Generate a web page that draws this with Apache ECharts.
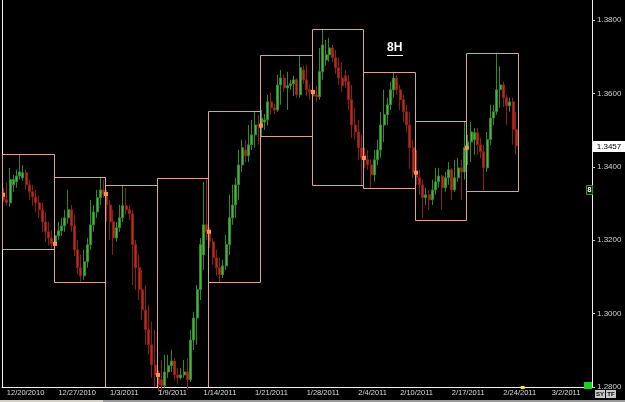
<!DOCTYPE html>
<html>
<head>
<meta charset="utf-8">
<script src="https://cdn.jsdelivr.net/npm/echarts/dist/echarts.min.js"></script>
<style>
  html, body { margin: 0; padding: 0; background: #000; }
  #main { width: 625px; height: 402px; }
</style>
</head>
<body>
<div id="main"></div>
<script>
// 8H bars, [open, close, low, high], 16 bars per week
var bars = [
  // week of 12/20/2010
  [1.3324,1.3310,1.3304,1.3343],[1.3310,1.3302,1.3294,1.3356],[1.3302,1.3365,1.3291,1.3397],[1.3351,1.3365,1.3332,1.3378],
  [1.3359,1.3375,1.3343,1.3392],[1.3375,1.3386,1.3365,1.3433],[1.3370,1.3384,1.3362,1.3405],[1.3384,1.3351,1.3337,1.3392],
  [1.3351,1.3332,1.3310,1.3365],[1.3332,1.3318,1.3294,1.3351],[1.3318,1.3302,1.3277,1.3337],[1.3302,1.3283,1.3261,1.3321],
  [1.3283,1.3250,1.3223,1.3302],[1.3250,1.3223,1.3196,1.3277],[1.3223,1.3206,1.3185,1.3250],[1.3206,1.3190,1.3177,1.3228],
  // 12/27/2010
  [1.3190,1.3212,1.3182,1.3228],[1.3212,1.3226,1.3201,1.3250],[1.3226,1.3239,1.3212,1.3261],[1.3239,1.3261,1.3223,1.3283],
  [1.3261,1.3283,1.3245,1.3337],[1.3283,1.3239,1.3223,1.3296],[1.3239,1.3174,1.3157,1.3269],[1.3174,1.3125,1.3106,1.3201],
  [1.3125,1.3103,1.3087,1.3160],[1.3103,1.3141,1.3092,1.3174],[1.3141,1.3188,1.3125,1.3206],[1.3188,1.3242,1.3174,1.3310],
  [1.3242,1.3277,1.3223,1.3296],[1.3277,1.3316,1.3261,1.3337],[1.3316,1.3337,1.3296,1.3373],[1.3337,1.3326,1.3316,1.3365],
  // 1/3/2011
  [1.3326,1.3296,1.3250,1.3337],[1.3296,1.3250,1.3201,1.3310],[1.3250,1.3206,1.3160,1.3283],[1.3206,1.3234,1.3196,1.3250],
  [1.3234,1.3261,1.3223,1.3296],[1.3261,1.3294,1.3250,1.3351],[1.3294,1.3283,1.3269,1.3343],[1.3283,1.3272,1.3255,1.3296],
  [1.3272,1.3188,1.3078,1.3283],[1.3188,1.3125,1.3065,1.3201],[1.3125,1.3065,1.3037,1.3160],[1.3065,1.3010,1.2983,1.3119],
  [1.3010,1.2956,1.2915,1.3078],[1.2956,1.2915,1.2888,1.3024],[1.2915,1.2860,1.2825,1.2978],[1.2860,1.2833,1.2801,1.2956],
  // 1/9/2011
  [1.2833,1.2806,1.2787,1.2846],[1.2820,1.2804,1.2787,1.2874],[1.2804,1.2841,1.2798,1.2888],[1.2841,1.2858,1.2825,1.2888],
  [1.2858,1.2871,1.2841,1.2901],[1.2871,1.2833,1.2820,1.2879],[1.2833,1.2825,1.2809,1.2852],[1.2825,1.2833,1.2820,1.2852],
  [1.2833,1.2841,1.2825,1.2874],[1.2841,1.2820,1.2792,1.2879],[1.2820,1.2928,1.2814,1.2956],[1.2928,1.2988,1.2901,1.3005],
  [1.2988,1.3065,1.2915,1.3078],[1.3065,1.3188,1.3037,1.3206],[1.3160,1.3242,1.3119,1.3359],[1.3242,1.3223,1.3201,1.3370],
  // 1/16/2011
  [1.3223,1.3196,1.3179,1.3234],[1.3196,1.3152,1.3133,1.3206],[1.3152,1.3125,1.3103,1.3174],[1.3125,1.3106,1.3087,1.3152],
  [1.3106,1.3130,1.3097,1.3147],[1.3130,1.3188,1.3119,1.3215],[1.3188,1.3261,1.3160,1.3324],[1.3261,1.3296,1.3242,1.3351],
  [1.3296,1.3351,1.3261,1.3370],[1.3351,1.3405,1.3310,1.3446],[1.3405,1.3452,1.3386,1.3474],[1.3446,1.3430,1.3413,1.3474],
  [1.3430,1.3460,1.3413,1.3514],[1.3460,1.3487,1.3446,1.3528],[1.3487,1.3514,1.3452,1.3553],[1.3514,1.3512,1.3460,1.3542],
  // 1/23/2011
  [1.3512,1.3533,1.3482,1.3555],[1.3522,1.3528,1.3501,1.3544],[1.3528,1.3577,1.3512,1.3596],[1.3577,1.3561,1.3542,1.3602],
  [1.3561,1.3555,1.3544,1.3572],[1.3555,1.3623,1.3550,1.3651],[1.3623,1.3642,1.3569,1.3664],[1.3642,1.3615,1.3604,1.3651],
  [1.3615,1.3621,1.3555,1.3659],[1.3621,1.3626,1.3610,1.3637],[1.3626,1.3637,1.3593,1.3648],[1.3637,1.3596,1.3588,1.3642],
  [1.3596,1.3670,1.3588,1.3705],[1.3664,1.3637,1.3626,1.3675],[1.3637,1.3610,1.3593,1.3678],[1.3610,1.3604,1.3583,1.3623],
  // 1/30/2011
  [1.3604,1.3593,1.3574,1.3642],[1.3596,1.3591,1.3577,1.3621],[1.3591,1.3659,1.3583,1.3724],[1.3659,1.3732,1.3637,1.3776],
  [1.3691,1.3705,1.3675,1.3746],[1.3705,1.3724,1.3686,1.3751],[1.3724,1.3697,1.3686,1.3732],[1.3697,1.3670,1.3653,1.3719],
  [1.3670,1.3642,1.3623,1.3697],[1.3642,1.3621,1.3604,1.3686],[1.3648,1.3632,1.3615,1.3664],[1.3632,1.3583,1.3555,1.3651],
  [1.3583,1.3514,1.3479,1.3623],[1.3514,1.3495,1.3474,1.3561],[1.3495,1.3452,1.3419,1.3528],[1.3452,1.3424,1.3351,1.3487],
  // 2/6/2011
  [1.3433,1.3419,1.3397,1.3452],[1.3419,1.3405,1.3392,1.3446],[1.3405,1.3378,1.3343,1.3419],[1.3378,1.3419,1.3359,1.3446],
  [1.3419,1.3446,1.3405,1.3474],[1.3446,1.3514,1.3424,1.3550],[1.3514,1.3542,1.3468,1.3610],[1.3542,1.3569,1.3514,1.3588],
  [1.3569,1.3610,1.3555,1.3632],[1.3610,1.3642,1.3588,1.3659],[1.3642,1.3610,1.3596,1.3651],[1.3610,1.3583,1.3555,1.3623],
  [1.3583,1.3550,1.3522,1.3596],[1.3550,1.3514,1.3495,1.3569],[1.3514,1.3452,1.3395,1.3550],[1.3452,1.3384,1.3370,1.3474],
  // 2/13/2011
  [1.3386,1.3370,1.3351,1.3446],[1.3370,1.3351,1.3324,1.3392],[1.3351,1.3316,1.3261,1.3365],[1.3316,1.3324,1.3296,1.3343],
  [1.3324,1.3310,1.3283,1.3337],[1.3310,1.3337,1.3296,1.3365],[1.3337,1.3359,1.3324,1.3397],[1.3359,1.3375,1.3343,1.3397],
  [1.3375,1.3343,1.3283,1.3378],[1.3343,1.3370,1.3332,1.3386],[1.3370,1.3392,1.3351,1.3413],[1.3392,1.3337,1.3310,1.3397],
  [1.3337,1.3370,1.3332,1.3419],[1.3370,1.3397,1.3359,1.3424],[1.3397,1.3386,1.3310,1.3419],[1.3386,1.3452,1.3365,1.3522],
  // 2/20/2011
  [1.3452,1.3468,1.3405,1.3487],[1.3468,1.3495,1.3413,1.3522],[1.3474,1.3493,1.3433,1.3506],[1.3493,1.3460,1.3433,1.3506],
  [1.3460,1.3441,1.3424,1.3479],[1.3441,1.3397,1.3335,1.3460],[1.3397,1.3474,1.3386,1.3495],[1.3474,1.3533,1.3460,1.3569],
  [1.3533,1.3550,1.3514,1.3569],[1.3550,1.3610,1.3542,1.3711],[1.3610,1.3623,1.3561,1.3674],[1.3623,1.3588,1.3563,1.3632],
  [1.3588,1.3566,1.3514,1.3596],[1.3566,1.3577,1.3550,1.3588],[1.3577,1.3501,1.3460,1.3588],[1.3501,1.3457,1.3433,1.3550]
];

// weekly range boxes and the weekly open marks
var weekHigh = [1.3435, 1.3372, 1.3350, 1.3369, 1.3552, 1.3705, 1.3775, 1.3658, 1.3525, 1.3710];
var weekLow  = [1.3176, 1.3086, 1.2800, 1.2800, 1.3086, 1.3484, 1.3350, 1.3342, 1.3255, 1.3334];
var weekOpen = [1.3324, 1.3190, 1.3326, 1.2833, 1.3223, 1.3512, 1.3604, 1.3424, 1.3384, 1.3452];
var barsPerWeek = 16;
var slotCount = 183; // bars + empty space on the right

// date labels along the bottom (bar index -> text)
var xLabelIdx = [1, 17, 33, 48, 62, 78, 94, 110, 123, 139, 155, 170];
var xLabels = ['12/20/2010','12/27/2010','1/3/2011','1/9/2011','1/14/2011','1/21/2011',
               '1/28/2011','2/4/2011','2/10/2011','2/17/2011','2/24/2011','3/2/2011'];
var yMin = 1.28, yMax = 1.38545, yStep = 0.02;
var lastPrice = bars[bars.length - 1][1];

var cats = [];
for (var i = 0; i < slotCount; i++) cats.push(String(i));
var labelMap = {};
for (var j = 0; j < xLabelIdx.length; j++) labelMap[xLabelIdx[j]] = xLabels[j];

var weeks = [];
for (var k = 0; k < weekHigh.length; k++) {
  weeks.push([k * barsPerWeek, weekHigh[k], weekLow[k], weekOpen[k]]);
}

function renderWeek(params, api) {
  var first = api.value(0);
  var last = first + barsPerWeek - 1;
  var w = api.size([1, 0])[0];
  var pTop = api.coord([first, api.value(1)]);
  var pBot = api.coord([last, api.value(2)]);
  var pOpen = api.coord([first, api.value(3)]);
  var x0 = Math.round(pTop[0] - w / 2) + 0.5;
  var x1 = Math.round(pBot[0] + w / 2) + 0.5;
  var y0 = Math.round(pTop[1]) + 0.5;
  var y1 = Math.round(pBot[1]) + 0.5;
  return {
    type: 'group',
    children: [
      { type: 'rect', shape: { x: x0, y: y0, width: x1 - x0, height: y1 - y0 },
        style: { fill: null, stroke: '#d8a696', lineWidth: 1 } },
      { type: 'rect', shape: { x: x0 - 1.5, y: pOpen[1] - 2, width: 4, height: 4 },
        style: { fill: '#f3954c' } }
    ]
  };
}

var myChart = echarts.init(document.getElementById('main'));
var option = {
  backgroundColor: '#000',
  animation: false,
  grid: { left: 2, right: 33, top: 0, bottom: 15 },
  xAxis: {
    type: 'category',
    data: cats,
    boundaryGap: true,
    axisLine: { lineStyle: { color: '#f0f0f0', width: 1 } },
    axisTick: {
      alignWithLabel: true, length: 3,
      interval: function (idx) { return labelMap[idx] !== undefined; },
      lineStyle: { color: '#d0d0d0' }
    },
    axisLabel: {
      interval: function (idx) { return labelMap[idx] !== undefined; },
      formatter: function (v, idx) { return labelMap[idx] || ''; },
      align: 'left', margin: 2, fontSize: 7.5, color: '#d8d8d8',
      fontFamily: 'Liberation Sans, Arial, sans-serif'
    },
    splitLine: { show: false }
  },
  yAxis: [
    {
      type: 'value', position: 'right',
      min: yMin, max: yMax, interval: yStep,
      axisLine: { show: true, lineStyle: { color: '#f0f0f0', width: 1 } },
      axisTick: { show: true, length: 3, lineStyle: { color: '#d0d0d0' } },
      axisLabel: {
        margin: 5, fontSize: 8, color: '#d0d0d0', showMaxLabel: false,
        fontFamily: 'Liberation Sans, Arial, sans-serif',
        formatter: function (v) { return v.toFixed(4); }
      },
      splitLine: { show: false }
    },
    {
      type: 'value', position: 'left',
      min: yMin, max: yMax,
      axisLine: { show: true, lineStyle: { color: '#f0f0f0', width: 1 } },
      axisTick: { show: false }, axisLabel: { show: false }, splitLine: { show: false }
    }
  ],
  series: [
    {
      name: 'EURUSD 8H',
      type: 'candlestick',
      data: bars,
      barWidth: 2.5,
      clip: true,
      itemStyle: {
        color: '#48b63c', color0: '#bc2c1e',
        borderColor: '#2f8a2a', borderColor0: '#8e1e14', borderWidth: 1
      }
    },
    {
      name: 'weekly range',
      type: 'custom',
      renderItem: renderWeek,
      data: weeks,
      encode: { x: 0, y: [1, 2, 3] },
      clip: true,
      z: 3
    }
  ]
};
myChart.setOption(option);

// last price tag and small chart furniture
var py = myChart.convertToPixel({ yAxisIndex: 0 }, lastPrice);
var markX = myChart.convertToPixel({ xAxisIndex: 0 }, bars.length + 1);
myChart.setOption({
  graphic: [
    { type: 'text', left: 387, top: 42, style: { text: '8H', fill: '#ffffff', font: 'bold 12px Liberation Sans, Arial, sans-serif' } },
    { type: 'line', shape: { x1: 387, y1: 55.5, x2: 403, y2: 55.5 }, style: { stroke: '#ffffff', lineWidth: 1 } },
    { type: 'rect', shape: { x: 593, y: Math.round(py) - 5, width: 32, height: 11 }, style: { fill: '#ffffff' }, z: 10 },
    { type: 'text', x: 609, y: Math.round(py) + 0.5, style: { text: lastPrice.toFixed(4), fill: '#000', font: '8px Liberation Sans, Arial, sans-serif', align: 'center', verticalAlign: 'middle' }, z: 11 },
    { type: 'rect', shape: { x: 586.5, y: 185.5, width: 6, height: 9 }, style: { fill: '#102010', stroke: '#3a8a3a', lineWidth: 1 }, z: 10 },
    { type: 'text', x: 589.5, y: 190, style: { text: '8', fill: '#ffffff', font: 'bold 7px Liberation Sans, Arial, sans-serif', align: 'center', verticalAlign: 'middle' }, z: 11 },
    { type: 'rect', shape: { x: 584, y: 382, width: 8, height: 7 }, style: { fill: '#22cc22' }, z: 10 },
    { type: 'rect', shape: { x: markX - 2, y: 386, width: 4, height: 3 }, style: { fill: '#f0e040' }, z: 10 },
    { type: 'rect', shape: { x: 595, y: 390, width: 10, height: 8 }, style: { fill: '#c8c8c8' }, z: 10 },
    { type: 'text', x: 600, y: 394, style: { text: 'SY', fill: '#000', font: 'bold 6px Liberation Sans, Arial, sans-serif', align: 'center', verticalAlign: 'middle' }, z: 11 },
    { type: 'rect', shape: { x: 606, y: 390, width: 10, height: 8 }, style: { fill: '#c8c8c8' }, z: 10 },
    { type: 'text', x: 611, y: 394, style: { text: 'TF', fill: '#000', font: 'bold 6px Liberation Sans, Arial, sans-serif', align: 'center', verticalAlign: 'middle' }, z: 11 },
    { type: 'rect', shape: { x: 0, y: 400, width: 625, height: 2 }, style: { fill: '#9a9a9a' } },
    { type: 'rect', shape: { x: 0, y: 400, width: 103, height: 2 }, style: { fill: '#d4d0c8' } }
  ]
});
</script>
</body>
</html>
